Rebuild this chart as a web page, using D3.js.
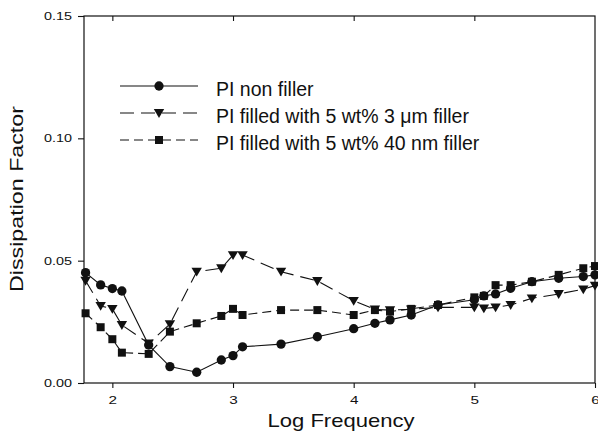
<!DOCTYPE html>
<html>
<head>
<meta charset="utf-8">
<script src="https://cdn.jsdelivr.net/npm/d3@7"></script>
<style>
  html, body { margin: 0; padding: 0; background: #fff; }
  svg { display: block; font-family: "Liberation Sans", Arial, sans-serif; }
</style>
</head>
<body>
<div id="chart"></div>
<script>
// data (x = log10 of frequency)
const logFreq = [1.778, 1.903, 2.0, 2.079, 2.301, 2.477, 2.699, 2.903, 3.0, 3.079, 3.398, 3.699,
  4.0, 4.176, 4.301, 4.477, 4.699, 5.0, 5.079, 5.176, 5.301, 5.477, 5.699, 5.903, 6.0];
const nonFiller = [0.0451, 0.0401, 0.0386, 0.0376, 0.0155, 0.0067, 0.0044, 0.0094, 0.0112, 0.0148, 0.0159, 0.0189,
  0.0222, 0.0244, 0.0258, 0.0278, 0.0319, 0.0340, 0.0356, 0.0364, 0.0387, 0.0414, 0.0428, 0.0435, 0.0442];
const filler3um = [0.0418, 0.0315, 0.0303, 0.0237, 0.0162, 0.0241, 0.0455, 0.0469, 0.0523, 0.0523, 0.0455, 0.0417,
  0.0336, 0.0301, 0.0298, 0.0301, 0.0309, 0.0309, 0.0305, 0.0309, 0.0319, 0.0346, 0.0364, 0.0383, 0.0398];
const filler40nm = [0.0285, 0.0228, 0.0179, 0.0124, 0.0119, 0.0210, 0.0244, 0.0274, 0.0303, 0.0278, 0.0298, 0.0298,
  0.0278, 0.0298, 0.0292, 0.0303, 0.0319, 0.0350, 0.0356, 0.0400, 0.0400, 0.0414, 0.0442, 0.0469, 0.0478];
const seriesNames = ["PI non filler", "PI filled with 5 wt% 3 \u03bcm filler", "PI filled with 5 wt% 40 nm filler"];
const xTicks = [2, 3, 4, 5, 6];
const yTicks = [0.00, 0.05, 0.10, 0.15];

function drawChart() {
  const width = 598, height = 432;
  const margin = { top: 16, right: 3, bottom: 49, left: 84 };

  const svg = d3.select("#chart").append("svg")
    .attr("width", width)
    .attr("height", height);

  const x = d3.scaleLinear().domain([1.765, 6]).range([margin.left, width - margin.right]);
  const y = d3.scaleLinear().domain([0, 0.15]).range([height - margin.bottom, margin.top]);

  const ink = "#111";

  // frame
  svg.append("rect")
    .attr("x", x.range()[0]).attr("y", y.range()[1])
    .attr("width", x.range()[1] - x.range()[0])
    .attr("height", y.range()[0] - y.range()[1])
    .attr("fill", "none").attr("stroke", ink).attr("stroke-width", 1.2);

  // bottom axis
  svg.append("g")
    .attr("class", "x-axis")
    .attr("transform", `translate(0,${y(0)})`)
    .call(d3.axisBottom(x).tickValues(xTicks).tickFormat(d3.format("d")).tickSize(5).tickPadding(8));
  // top inner ticks
  svg.append("g")
    .attr("transform", `translate(0,${y(0.15)})`)
    .call(d3.axisTop(x).tickValues(xTicks.slice(0, 4)).tickFormat("").tickSize(-5));
  // left axis
  svg.append("g")
    .attr("class", "y-axis")
    .attr("transform", `translate(${x.range()[0]},0)`)
    .call(d3.axisLeft(y).tickValues(yTicks).tickFormat(d3.format(".2f")).tickSize(6).tickPadding(6));

  svg.selectAll(".domain").remove();
  svg.selectAll(".tick line").attr("stroke", ink).attr("stroke-width", 1.1);
  svg.selectAll(".tick text").attr("fill", ink).style("font-size", "11px")
    .attr("lengthAdjust", "spacingAndGlyphs");
  // the scanned font is wide, stretch the labels a bit
  svg.selectAll(".y-axis .tick text").attr("textLength", 28);
  svg.selectAll(".x-axis .tick text").attr("textLength", 8.5);

  // axis titles
  svg.append("text")
    .attr("x", 341)
    .attr("y", 427)
    .attr("text-anchor", "middle")
    .attr("textLength", 147).attr("lengthAdjust", "spacingAndGlyphs")
    .style("font-size", "19px").attr("fill", ink)
    .text("Log Frequency");
  svg.append("text")
    .attr("transform", `translate(22.5,199) rotate(-90)`)
    .attr("text-anchor", "middle")
    .attr("textLength", 186).attr("lengthAdjust", "spacingAndGlyphs")
    .style("font-size", "18px").attr("fill", ink)
    .text("Dissipation Factor");

  const series = [
    { name: seriesNames[0], values: nonFiller, dash: null, symbol: d3.symbolCircle, size: 68 },
    { name: seriesNames[1], values: filler3um, dash: "14,7", symbol: "tri", size: 0 },
    { name: seriesNames[2], values: filler40nm, dash: "9,5", symbol: d3.symbolSquare, size: 64 }
  ];

  const line = d3.line().x(d => x(d[0])).y(d => y(d[1]));

  // downward triangle path
  function tri(cx, cy, r) {
    return `M${cx - r},${cy - r * 0.75}L${cx + r},${cy - r * 0.75}L${cx},${cy + r * 0.95}Z`;
  }
  function marker(g, s, cx, cy) {
    if (s.symbol === "tri") {
      g.append("path").attr("d", tri(cx, cy, 5.2)).attr("fill", ink);
    } else {
      g.append("path")
        .attr("d", d3.symbol().type(s.symbol).size(s.size)())
        .attr("transform", `translate(${cx},${cy})`)
        .attr("fill", ink);
    }
  }

  series.forEach(s => {
    const pts = logFreq.map((f, i) => [f, s.values[i]]);
    svg.append("path")
      .datum(pts)
      .attr("d", line)
      .attr("fill", "none")
      .attr("stroke", ink)
      .attr("stroke-width", 1.1)
      .attr("stroke-dasharray", s.dash);
    const g = svg.append("g");
    pts.forEach(p => marker(g, s, x(p[0]), y(p[1])));
  });

  // legend
  const legendY = [86, 113, 140];
  series.forEach((s, i) => {
    const ly = legendY[i];
    svg.append("line")
      .attr("x1", 120).attr("x2", 198).attr("y1", ly).attr("y2", ly)
      .attr("stroke", ink).attr("stroke-width", 1.1)
      .attr("stroke-dasharray", s.dash);
    marker(svg, s, 159, ly);
    svg.append("text")
      .attr("x", 216).attr("y", ly + 10)
      .style("font-size", "19.5px").attr("fill", ink)
      .text(s.name);
  });
}

document.addEventListener("DOMContentLoaded", drawChart);
</script>
</body>
</html>
